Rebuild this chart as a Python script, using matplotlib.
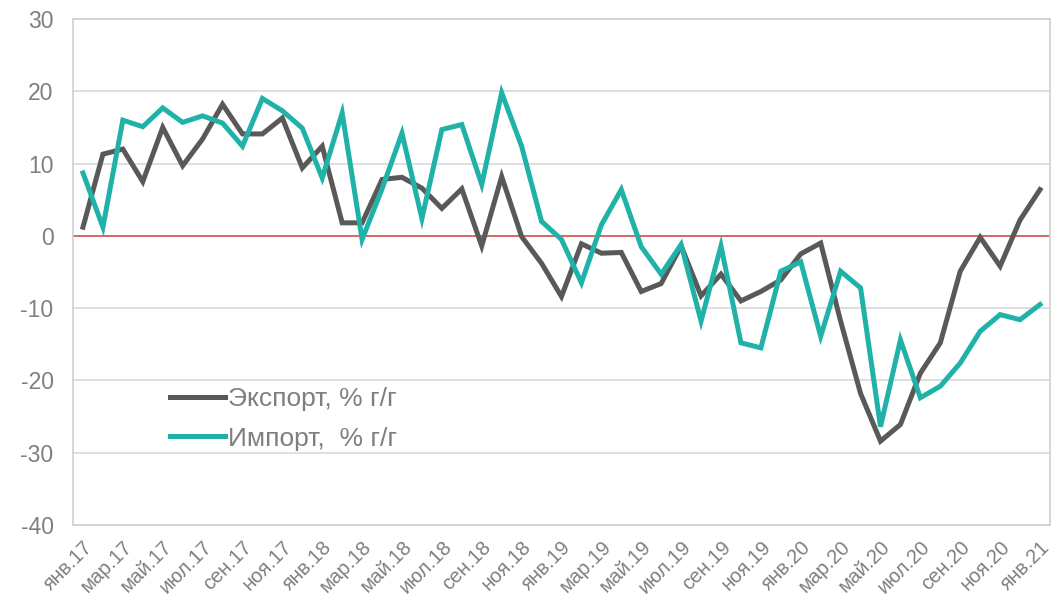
import matplotlib
matplotlib.use("Agg")
from matplotlib import pyplot as plt

months = ['янв', 'фев', 'мар', 'апр', 'май', 'июн',
          'июл', 'авг', 'сен', 'окт', 'ноя', 'дек']
years = ['17', '18', '19', '20']

# monthly labels янв.17 .. янв.21
labels = [m + '.' + y for y in years for m in months] + ['янв.21']

export = [1.2, 11.3, 12.0, 7.5, 15.0, 9.7, 13.4, 18.2, 14.1, 14.1, 16.3, 9.4,
          12.4, 1.8, 1.8, 7.8, 8.1, 6.6, 3.8, 6.5, -1.4, 8.2, -0.1, -3.8,
          -8.4, -1.1, -2.4, -2.3, -7.7, -6.6, -1.4, -8.3, -5.3, -9.0, -7.7, -6.1,
          -2.5, -1.0, -11.8, -21.8, -28.4, -26.1, -19.0, -14.8, -4.9, -0.2, -4.2, 2.2,
          6.4]
imports = [8.7, 1.2, 16.0, 15.1, 17.7, 15.7, 16.6, 15.6, 12.4, 19.0, 17.3, 14.9,
           8.0, 17.0, -0.5, 6.5, 14.2, 2.4, 14.7, 15.4, 7.1, 19.8, 12.4, 2.0,
           -0.5, -6.5, 1.5, 6.4, -1.5, -5.3, -1.2, -11.8, -1.4, -14.8, -15.5, -4.9,
           -3.6, -13.9, -4.9, -7.2, -26.4, -14.4, -22.4, -20.8, -17.6, -13.2, -10.9, -11.6,
           -9.5]

plt.rcParams['font.family'] = ['Liberation Sans', 'DejaVu Sans']
plt.rcParams['axes.unicode_minus'] = False

fig = plt.figure(figsize=(10.61, 6.13), dpi=100)
ax = fig.add_axes([0.0688, 0.1436, 0.9208, 0.8254])

x = list(range(len(labels)))
ax.axhline(0, color='#d9534f', lw=1.2, zorder=2)
ax.plot(x, export, color='#595959', lw=3.6, solid_joinstyle='miter',
        label='Экспорт, % г/г', zorder=3)
ax.plot(x, imports, color='#20b2a8', lw=3.6, solid_joinstyle='miter',
        label='Импорт,  % г/г', zorder=3)

ax.set_xlim(-0.5, len(labels) - 0.5)
ax.set_ylim(-40, 30)
ax.set_yticks(range(-40, 31, 10))
ax.set_xticks(x[::2])
ax.set_xticklabels(labels[::2], rotation=45, ha='right', rotation_mode='anchor')
ax.tick_params(axis='x', length=0, pad=9, labelsize=14.5, colors='#7f7f7f')
ax.tick_params(axis='y', length=0, pad=14, labelsize=16.5, colors='#7f7f7f')

ax.grid(axis='y', color='#d9d9d9', lw=1.2)
ax.set_axisbelow(True)
for s in ax.spines.values():
    s.set_color('#d0d0d0')
    s.set_linewidth(1.2)

ax.legend(loc='center left', bbox_to_anchor=(0.099, 0.21), frameon=False,
          fontsize=19, labelcolor='#7f7f7f', handlelength=2.1,
          handletextpad=0.12, labelspacing=0.6, borderpad=0, borderaxespad=0)

fig.savefig('out.png', dpi=100)
